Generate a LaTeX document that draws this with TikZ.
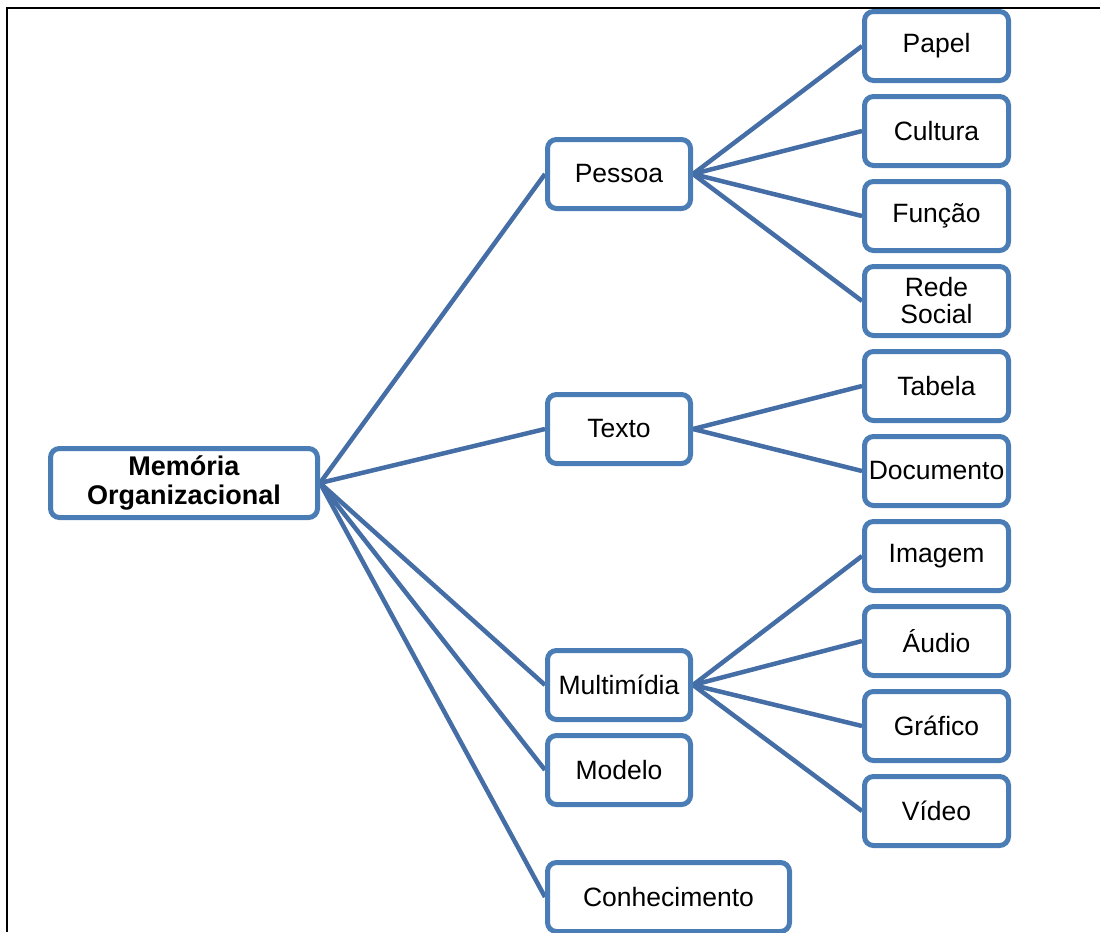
\documentclass[tikz,border=0pt]{standalone}
\usepackage{fontspec}
\setmainfont{Liberation Sans}
\usetikzlibrary{backgrounds}
\definecolor{boxblue}{RGB}{74,124,182}
\definecolor{linkblue}{RGB}{68,110,165}
\tikzset{
  x=1pt, y=-1pt,
  card/.style={draw=boxblue, line width=5pt, rounded corners=9pt, fill=white,
    inner sep=0pt, align=center, minimum height=69pt,
    font=\fontsize{26.5}{27}\selectfont},
  midcard/.style={card, minimum width=143pt},
  leafcard/.style={card, minimum width=144pt},
  link/.style={draw=linkblue, line width=4.5pt},
  frameline/.style={draw=black, line width=2.5pt}
}
\begin{document}
\begin{tikzpicture}
\useasboundingbox (0,0) rectangle (1100,932);
\clip (0,0) rectangle (1100,932);

% outer frame
\draw[frameline] (1100,8) -- (7,8) -- (7,932);

% root
\node[card, minimum width=267pt, font=\bfseries\fontsize{27}{29}\selectfont]
  (mem) at (184,483) {Memória\\Organizacional};

% second level
\node[midcard] (pes) at (619,174) {Pessoa};
\node[midcard] (tex) at (619,429) {Texto};
\node[midcard] (mul) at (619,685) {Multimídia};
\node[midcard] (mod) at (619,770) {Modelo};
\node[card, minimum width=242pt] (con) at (668.5,897) {Conhecimento};

% leaves
\node[leafcard] (pap) at (936.5,46)  {Papel};
\node[leafcard] (cul) at (936.5,131) {Cultura};
\node[leafcard] (fun) at (936.5,216) {Função};
\node[leafcard] (red) at (936.5,301) {Rede\\Social};
\node[leafcard] (tab) at (936.5,386) {Tabela};
\node[leafcard] (doc) at (936.5,471) {Documento};
\node[leafcard] (ima) at (936.5,556) {Imagem};
\node[leafcard] (aud) at (936.5,641) {Áudio};
\node[leafcard] (gra) at (936.5,726) {Gráfico};
\node[leafcard] (vid) at (936.5,811) {Vídeo};

% connectors, drawn beneath the cards
\begin{scope}[on background layer]
  \foreach \t in {pes,tex,mul,mod,con}
    \draw[link] (mem.east) -- (\t.west);
  \foreach \t in {pap,cul,fun,red}
    \draw[link] (pes.east) -- (\t.west);
  \foreach \t in {tab,doc}
    \draw[link] (tex.east) -- (\t.west);
  \foreach \t in {ima,aud,gra,vid}
    \draw[link] (mul.east) -- (\t.west);
\end{scope}
\end{tikzpicture}
\end{document}
